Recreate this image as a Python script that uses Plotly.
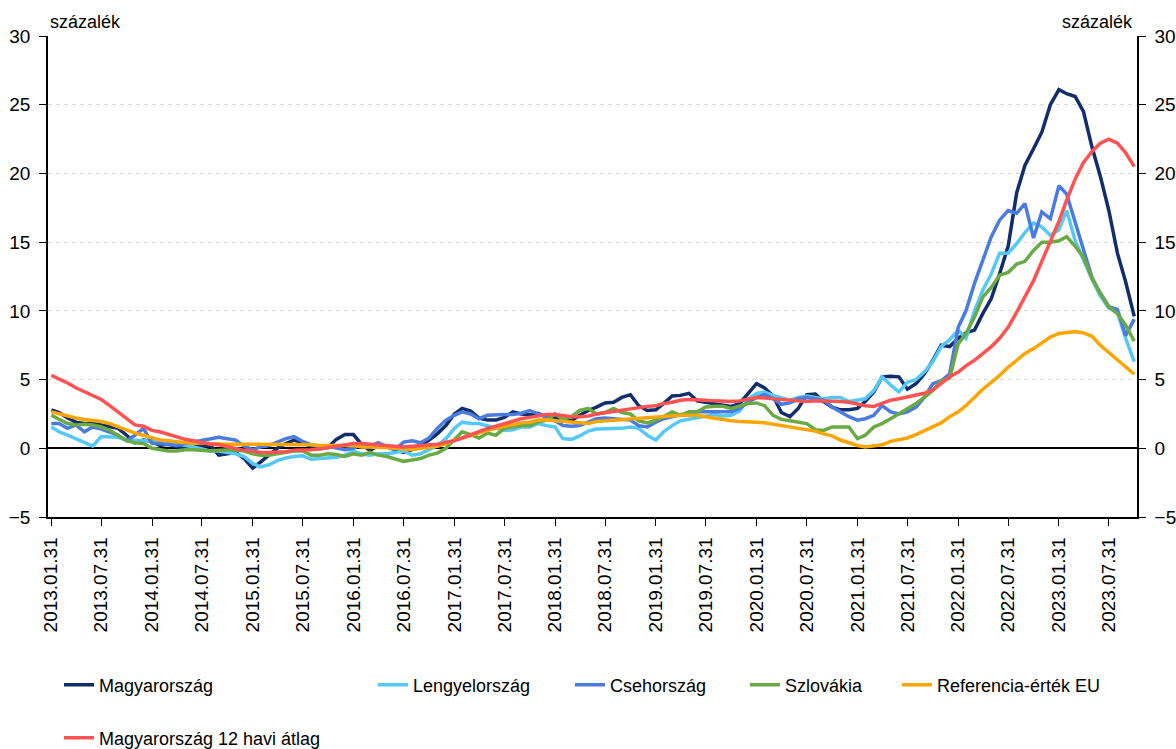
import pandas as pd
import plotly.graph_objects as go

# ---------------- data (monthly, 2013.01 - 2023.10) ----------------
months = pd.date_range("2013-01-31", periods=130, freq="ME")

hu = [2.8, 2.6, 2.2, 1.9, 1.8, 1.8, 1.7, 1.55, 1.45, 0.95, 0.4, 0.6,
      0.5, 0.2, 0.3, 0.1, 0.0, 0.1, 0.2, 0.2, -0.5, -0.4, -0.3, -0.75,
      -1.45, -1.0, -0.5, 0.0, 0.35, 0.6, 0.4, 0.15, 0.05, 0.05, 0.65, 1.0,
      1.0, 0.3, -0.15, 0.2, 0.1, -0.1, -0.3, -0.1, 0.2, 0.6, 1.05, 1.65,
      2.5, 2.9, 2.7, 2.2, 2.05, 2.05, 2.25, 2.65, 2.5, 2.45, 2.55, 2.25,
      2.2, 2.0, 2.0, 2.4, 2.75, 3.0, 3.3, 3.35, 3.7, 3.9, 3.1, 2.75,
      2.8, 3.25, 3.8, 3.85, 4.0, 3.45, 3.35, 3.25, 3.1, 3.05, 3.25, 4.0,
      4.7, 4.4, 3.8, 2.6, 2.3, 2.9, 3.9, 3.95, 3.4, 3.0, 2.8, 2.8,
      2.9, 3.4, 4.1, 5.2, 5.25, 5.2, 4.3, 4.7, 5.4, 6.4, 7.5, 7.4,
      8.0, 8.4, 8.6, 9.8, 10.9, 12.7, 14.7, 18.6, 20.6, 21.8, 23.0, 25.0,
      26.1, 25.8, 25.6, 24.5, 21.9, 19.8, 17.3, 14.2, 12.1, 9.6]

pl = [1.55, 1.2, 0.95, 0.7, 0.45, 0.15, 0.85, 0.85, 0.8, 0.6, 0.55, 0.55,
      0.55, 0.6, 0.45, 0.35, 0.2, 0.1, -0.05, -0.2, -0.2, -0.3, -0.4, -0.6,
      -1.1, -1.35, -1.2, -0.9, -0.7, -0.6, -0.55, -0.8, -0.75, -0.7, -0.65, -0.5,
      -0.2, -0.4, -0.5, -0.4, -0.4, -0.3, -0.2, -0.5, -0.4, -0.1, 0.2, 0.7,
      1.45, 1.9, 1.8, 1.8, 1.65, 1.45, 1.3, 1.35, 1.55, 1.55, 1.8, 1.65,
      1.55, 0.7, 0.65, 0.9, 1.25, 1.4, 1.4, 1.4, 1.45, 1.55, 1.45, 0.95,
      0.6, 1.2, 1.65, 2.0, 2.1, 2.2, 2.3, 2.45, 2.35, 2.4, 2.7, 3.55,
      4.0, 4.1, 3.85, 3.7, 3.5, 3.7, 3.8, 3.7, 3.6, 3.7, 3.7, 3.4,
      3.5, 3.6, 4.2, 5.2, 4.6, 4.1, 4.8, 5.0, 5.55, 6.3, 7.4, 7.9,
      8.6, 8.0, 10.0, 11.5, 12.7, 14.2, 14.2, 14.9, 15.7, 16.4, 16.1, 15.5,
      15.9, 17.3, 15.1, 13.7, 12.3, 11.1, 10.2, 9.9, 8.0, 6.3]

cz = [1.8, 1.8, 1.45, 1.7, 1.2, 1.55, 1.4, 1.2, 0.95, 0.55, 0.95, 1.45,
      0.35, 0.35, 0.3, 0.2, 0.35, 0.45, 0.55, 0.7, 0.8, 0.7, 0.6, 0.15,
      -0.1, 0.1, 0.2, 0.45, 0.7, 0.85, 0.5, 0.25, 0.15, 0.15, 0.0, -0.1,
      0.0, 0.3, 0.15, 0.4, 0.1, -0.1, 0.45, 0.55, 0.4, 0.75, 1.45, 2.05,
      2.4, 2.65, 2.5, 2.15, 2.4, 2.45, 2.45, 2.45, 2.55, 2.75, 2.5, 2.2,
      2.0, 1.65, 1.6, 1.65, 1.9, 2.15, 2.2, 2.15, 2.15, 2.05, 1.65, 1.55,
      1.9, 2.15, 2.3, 2.45, 2.45, 2.65, 2.65, 2.65, 2.65, 2.65, 2.9, 3.35,
      3.7, 3.9, 3.6, 3.2, 3.3, 3.6, 3.7, 3.6, 3.5, 3.0, 2.65, 2.3,
      2.05, 2.15, 2.4, 3.1, 2.65, 2.5, 2.65, 3.0, 3.7, 4.7, 4.9, 5.4,
      8.8, 10.0, 12.0, 13.7, 15.4, 16.6, 17.3, 17.1, 17.8, 15.3, 17.2, 16.7,
      19.1, 18.5, 16.5, 14.4, 12.4, 11.3, 10.3, 10.1, 8.2, 9.4]

sk = [2.4, 2.1, 1.8, 1.7, 1.75, 1.7, 1.55, 1.3, 0.95, 0.55, 0.4, 0.35,
      0.0, -0.1, -0.2, -0.2, -0.1, -0.1, -0.15, -0.2, -0.15, -0.1, -0.1, -0.2,
      -0.4, -0.5, -0.5, -0.4, -0.3, -0.2, -0.2, -0.5, -0.5, -0.4, -0.45, -0.6,
      -0.4, -0.5, -0.3, -0.5, -0.6, -0.8, -0.95, -0.85, -0.75, -0.5, -0.35, 0.0,
      0.6, 1.2, 1.0, 0.75, 1.1, 0.95, 1.45, 1.55, 1.65, 1.65, 1.9, 2.05,
      2.5, 2.1, 2.3, 2.75, 2.9, 2.5, 2.6, 2.9, 2.6, 2.5, 2.0, 1.85,
      2.05, 2.3, 2.65, 2.4, 2.65, 2.65, 3.0, 3.05, 3.05, 2.9, 3.05, 3.25,
      3.3, 3.1, 2.4, 2.1, 2.0, 1.9, 1.8, 1.35, 1.3, 1.55, 1.55, 1.55,
      0.7, 0.95, 1.55, 1.8, 2.15, 2.5, 2.9, 3.25, 3.7, 4.2, 4.9, 5.1,
      7.6, 8.35, 9.55, 11.0, 11.7, 12.6, 12.8, 13.4, 13.6, 14.4, 15.0, 15.0,
      15.1, 15.4, 14.7, 13.9, 12.35, 11.25, 10.3, 9.8, 8.95, 7.8]

ref_eu = [2.65, 2.5, 2.3, 2.2, 2.1, 2.05, 1.95, 1.8, 1.55, 1.3, 1.1, 0.95,
          0.75, 0.6, 0.55, 0.45, 0.4, 0.35, 0.4, 0.35, 0.3, 0.3, 0.3, 0.3,
          0.3, 0.3, 0.3, 0.3, 0.3, 0.25, 0.25, 0.25, 0.2, 0.2, 0.2, 0.2,
          0.2, 0.1, 0.1, 0.1, 0.05, 0.0, -0.05, -0.1, 0.0, 0.05, 0.15, 0.35,
          0.6, 0.75, 0.95, 1.1, 1.3, 1.45, 1.6, 1.75, 1.85, 1.9, 2.05, 2.05,
          2.0, 1.95, 1.85, 1.8, 1.8, 1.95, 2.0, 2.05, 2.1, 2.15, 2.15, 2.25,
          2.3, 2.3, 2.35, 2.4, 2.4, 2.4, 2.3, 2.2, 2.05, 2.0, 1.95, 1.95,
          1.9, 1.85, 1.75, 1.7, 1.6, 1.5, 1.35, 1.25, 1.05, 0.9, 0.6, 0.4,
          0.2, 0.1, 0.15, 0.25, 0.5, 0.6, 0.75, 1.0, 1.3, 1.55, 1.85, 2.3,
          2.65, 3.1, 3.7, 4.3, 4.8, 5.3, 5.9, 6.4, 6.9, 7.25, 7.7, 8.1,
          8.35, 8.45, 8.5, 8.4, 8.15, 7.5, 6.95, 6.4, 5.95, 5.4]

hu_avg12 = [5.3, 5.07, 4.75, 4.4, 4.1, 3.85, 3.55, 3.1, 2.65, 2.15, 1.7, 1.6,
            1.3, 1.2, 1.0, 0.8, 0.65, 0.55, 0.4, 0.3, 0.25, 0.1, 0.0, -0.15,
            -0.2, -0.3, -0.3, -0.3, -0.25, -0.15, -0.15, -0.1, -0.05, 0.05, 0.2, 0.3,
            0.35, 0.35, 0.3, 0.3, 0.2, 0.15, 0.1, 0.15, 0.2, 0.25, 0.3, 0.45,
            0.55, 0.75, 1.0, 1.25, 1.45, 1.6, 1.8, 2.0, 2.15, 2.25, 2.35, 2.45,
            2.45, 2.35, 2.3, 2.3, 2.35, 2.5, 2.6, 2.65, 2.75, 2.85, 2.95, 3.05,
            3.1, 3.25, 3.35, 3.5, 3.55, 3.55, 3.5, 3.45, 3.4, 3.4, 3.45, 3.55,
            3.7, 3.65, 3.6, 3.5, 3.45, 3.4, 3.4, 3.45, 3.45, 3.45, 3.4, 3.35,
            3.2, 3.1, 3.05, 3.3, 3.5, 3.6, 3.75, 3.9, 4.0, 4.25, 4.7, 5.2,
            5.55, 6.0, 6.4, 6.9, 7.4, 8.0, 8.8, 9.9, 11.0, 12.2, 13.6, 15.0,
            16.5, 18.05, 19.6, 20.8, 21.6, 22.2, 22.5, 22.2, 21.5, 20.5]

series_names = ["Magyarország", "Lengyelország", "Csehország", "Szlovákia",
                "Referencia-érték EU", "Magyarország 12 havi átlag"]
series_values = [hu, pl, cz, sk, ref_eu, hu_avg12]
series_colors = ["#112E6B", "#55C8F8", "#4A7CE0", "#6AAA44", "#FAA500", "#FF5252"]

tick_dates = pd.date_range("2013-01-31", "2023-07-31", freq="6ME")
tick_labels = [d.strftime("%Y.%m.%d") for d in tick_dates]

y_ticks = [-5, 0, 5, 10, 15, 20, 25, 30]

# legend placement (px): (line start x, row centre y)
legend_pos = [(62, 685), (376, 685), (573, 685), (748, 685), (900, 685), (62, 738)]

# ---------------- figure ----------------
W, H = 1176, 749
L, R, T, B = 48, 39, 36, 232
pw, ph = W - L - R, H - T - B

FONT = "Liberation Sans"
fig = go.Figure()

for i, (name, vals, col) in enumerate(zip(series_names, series_values, series_colors)):
    lg = "legend" if i == 0 else f"legend{i+1}"
    fig.add_trace(go.Scatter(x=months, y=vals, name=name, mode="lines",
                             line=dict(color=col, width=3.5),
                             legend=lg, hoverinfo="x+y+name"))

# invisible helper trace for the right-hand axis
fig.add_trace(go.Scatter(x=[months[0]], y=[None], yaxis="y2", showlegend=False,
                         hoverinfo="skip", mode="lines"))

legends = {}
for i, (lx, ly) in enumerate(legend_pos):
    key = "legend" if i == 0 else f"legend{i+1}"
    legends[key] = dict(x=(lx - 3 - L) / pw, y=(H - B - ly) / ph,
                        xanchor="left", yanchor="middle", orientation="h",
                        bgcolor="rgba(0,0,0,0)", borderwidth=0,
                        font=dict(family=FONT, size=18, color="#000000"))

axis_font = dict(family=FONT, size=19, color="#000000")

fig.update_layout(
    width=W, height=H,
    margin=dict(l=L, r=R, t=T, b=B, pad=0, autoexpand=False),
    paper_bgcolor="white", plot_bgcolor="white",
    showlegend=True,
    xaxis=dict(type="date", range=["2013-01-19", "2023-11-10"],
               tickmode="array", tickvals=tick_dates, ticktext=tick_labels,
               tickangle=-90, tickfont=axis_font, automargin=False,
               ticks="outside", ticklen=7, tickcolor="#000000", tickwidth=1,
               showline=True, linecolor="#000000", linewidth=1.5,
               showgrid=False, zeroline=False, ticklabelstandoff=4),
    yaxis=dict(range=[-5, 30], tickmode="array", tickvals=y_ticks,
               tickfont=axis_font, ticks="outside", ticklen=7, automargin=False,
               tickcolor="#000000", showline=True, linecolor="#000000",
               linewidth=1.5, showgrid=True, gridcolor="#D9D9D9",
               griddash="4px,4px", gridwidth=1,
               zeroline=True, zerolinecolor="#000000", zerolinewidth=1.5,
               ticklabelstandoff=5),
    yaxis2=dict(range=[-5, 30], tickmode="array", tickvals=y_ticks,
                overlaying="y", side="right", tickfont=axis_font, automargin=False,
                ticks="outside", ticklen=7, tickcolor="#000000",
                showline=True, linecolor="#000000", linewidth=1.5,
                showgrid=False, zeroline=False, ticklabelstandoff=5),
    annotations=[
        dict(text="százalék", xref="paper", yref="paper", x=0, y=(H - B - 22) / ph,
             xanchor="left", yanchor="middle", showarrow=False,
             font=dict(family=FONT, size=18, color="#000000")),
        dict(text="százalék", xref="paper", yref="paper", x=1, y=(H - B - 22) / ph,
             xanchor="right", yanchor="middle", showarrow=False, xshift=-2,
             font=dict(family=FONT, size=18, color="#000000")),
    ],
    **legends,
)

fig.write_html("out.html", config={"displayModeBar": False},
               post_script="document.body.style.margin='0px';document.body.style.overflow='hidden';")
